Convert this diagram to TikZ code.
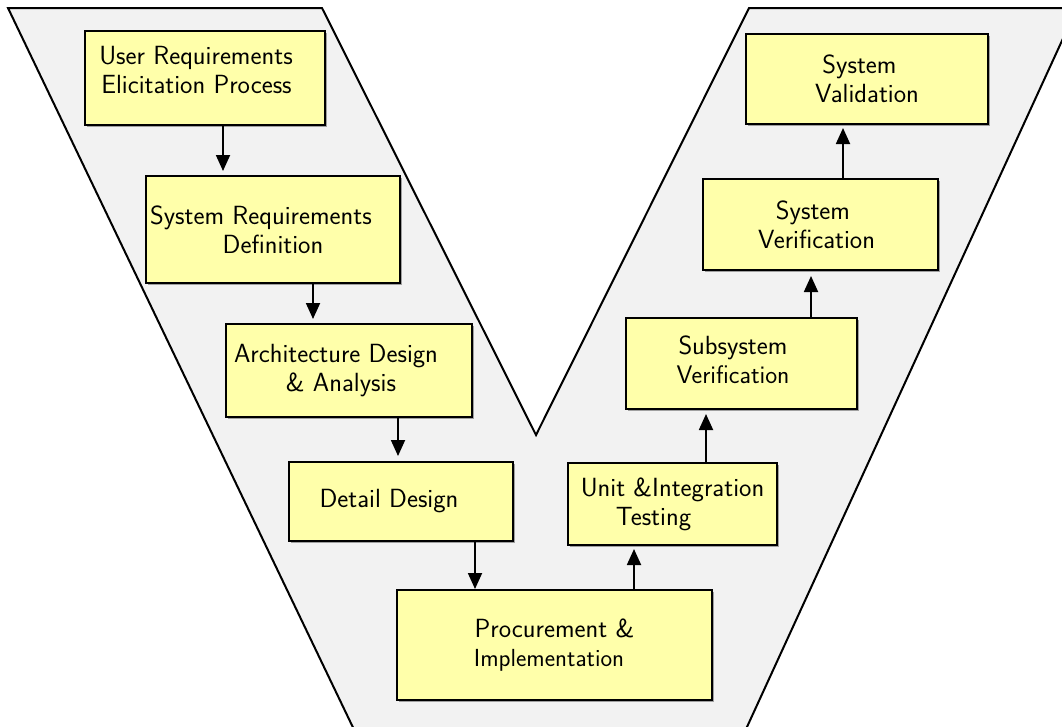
\documentclass[tikz,border=0pt]{standalone}
\usetikzlibrary{arrows.meta,calc,shadows}
\definecolor{vfill}{HTML}{F2F2F2}
\definecolor{boxfill}{HTML}{FFFFAA}
\newcommand{\smallline}{\fontsize{24.7}{29}\selectfont}
\begin{document}
\begin{tikzpicture}[x=1pt,y=-1pt,
  stage/.style={draw=black, line width=2pt, fill=boxfill, inner sep=0pt,
    align=center, font=\sffamily\fontsize{26.3}{29}\selectfont,
    drop shadow={shadow xshift=2pt, shadow yshift=-2pt, fill=black!45, opacity=0.8}},
  arr/.style={line width=1.8pt, -{Triangle[width=14pt,length=16pt]}}]
\useasboundingbox (0,0) rectangle (1062,726);
\begin{scope}
\clip (0,0) rectangle (1062,726);
\draw[line width=2pt, fill=vfill, line join=miter]
  (8,8) -- (322,8) -- (536,435) -- (749,8) -- (1077,8) -- (741,740) -- (359,740) -- cycle;
\end{scope}

\node[stage, minimum width=240pt, minimum height=94pt] (b1) at (205,78)
  {User Requirements\hspace*{18pt}\mbox{}\\Elicitation Process\hspace*{17pt}\mbox{}\\[-12pt]\mbox{}};
\node[stage, minimum width=254pt, minimum height=107pt] (b2) at (273,229.5)
  {System Requirements\hspace*{24pt}\mbox{}\\Definition};
\node[stage, minimum width=246pt, minimum height=93pt] (b3) at (349,370.5)
  {Architecture Design\hspace*{26pt}\mbox{}\\\& Analysis\hspace*{16pt}\mbox{}};
\node[stage, minimum width=224pt, minimum height=79pt] (b4) at (401,501.5)
  {Detail Design\hspace*{24pt}\mbox{}};
\node[stage, minimum width=315pt, minimum height=110pt] (b5) at (554.5,645)
  {Procurement \&\\{\smallline Implementation}\hspace*{11pt}\mbox{}};
\node[stage, minimum width=209pt, minimum height=82pt] (b6) at (672.5,504)
  {Unit \&Integration\\Testing\hspace*{38pt}\mbox{}};
\node[stage, minimum width=231pt, minimum height=91pt] (b7) at (741.5,363.5)
  {Subsystem\hspace*{17pt}\mbox{}\\{\fontsize{25.4}{29}\selectfont Verification}\hspace*{17pt}\mbox{}\\[-22pt]\mbox{}};
\node[stage, minimum width=235pt, minimum height=91pt] (b8) at (820.5,224.5)
  {System\hspace*{15pt}\mbox{}\\Verification\hspace*{8pt}\mbox{}};
\node[stage, minimum width=242pt, minimum height=90pt] (b9) at (867,79)
  {System\hspace*{15pt}\mbox{}\\Validation};

\coordinate (a1) at ($(b1.south)+(18,0)$);
\coordinate (a2) at ($(b2.south)+(40,0)$);
\coordinate (a3) at ($(b3.south)+(49,0)$);
\coordinate (a4) at ($(b4.south)+(74,0)$);
\coordinate (a5) at ($(b5.north)+(79.5,0)$);
\coordinate (a6) at ($(b6.north)+(33.5,0)$);
\coordinate (a7) at ($(b7.north)+(69.5,0)$);
\coordinate (a8) at ($(b8.north)+(22.5,0)$);

\draw[arr, shorten >=4pt] (a1) -- (a1 |- b2.north);
\draw[arr, shorten >=4pt] (a2) -- (a2 |- b3.north);
\draw[arr, shorten >=5pt] (a3) -- (a3 |- b4.north);
\draw[arr] (a4) -- (a4 |- b5.north);
\draw[arr, shorten >=3pt] (a5) -- (a5 |- b6.south);
\draw[arr, shorten >=4pt] (a6) -- (a6 |- b7.south);
\draw[arr, shorten >=5pt] (a7) -- (a7 |- b8.south);
\draw[arr, shorten >=3pt] (a8) -- (a8 |- b9.south);
\end{tikzpicture}
\end{document}
